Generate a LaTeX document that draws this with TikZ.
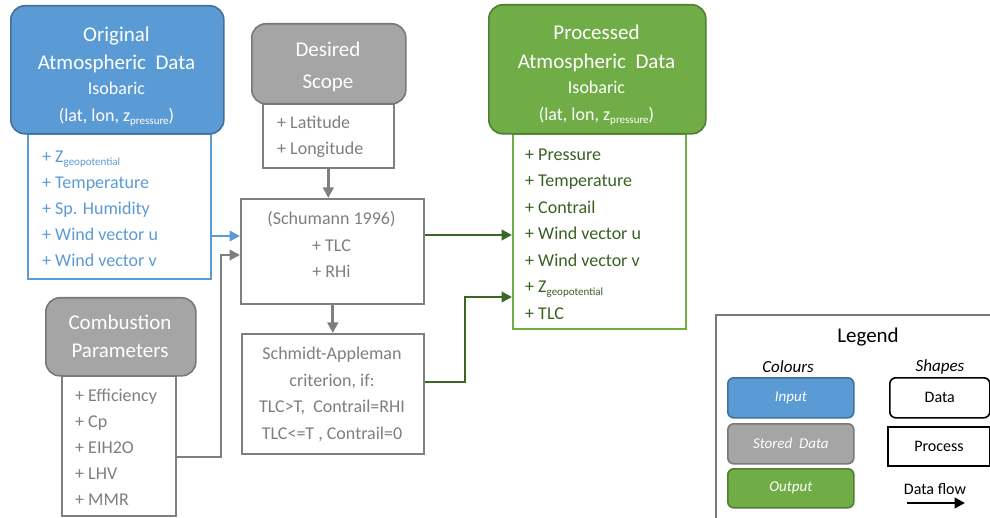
\documentclass[tikz,border=0pt]{standalone}
\usepackage{fontspec}
\setmainfont{Carlito}
\usetikzlibrary{arrows.meta}
\definecolor{inblue}{HTML}{5B9BD5}
\definecolor{inblueD}{HTML}{41719C}
\definecolor{stgray}{HTML}{A5A5A5}
\definecolor{stgrayD}{HTML}{787878}
\definecolor{outgreen}{HTML}{70AD47}
\definecolor{outgreenD}{HTML}{507E32}
\definecolor{arrgreen}{HTML}{3D6626}
\definecolor{txtgray}{HTML}{7F7F7F}
\definecolor{txtgreen}{HTML}{3A6024}
\begin{document}
\begin{tikzpicture}[x=1pt,y=-1pt,
  hdr/.style={draw, rounded corners=14pt, line width=1.6pt, anchor=north west, inner sep=0pt},
  bodybox/.style={draw, line width=1.6pt, anchor=north west, inner sep=0pt, fill=white},
  proc/.style={draw=txtgray, line width=1.6pt, anchor=north west, inner sep=0pt, fill=white},
  htitle/.style={anchor=base, inner sep=0pt, text=white, font=\fontsize{21}{26}\selectfont},
  hsub/.style={anchor=base, inner sep=0pt, text=white, font=\fontsize{18}{26}\selectfont},
  blist/.style={anchor=west, align=left, inner sep=0pt, font=\fontsize{18}{26}\selectfont},
  clist/.style={anchor=center, align=center, inner sep=0pt, font=\fontsize{18}{26.5}\selectfont, text=txtgray},
  flow/.style={line width=2.8pt, -{Triangle[length=10.5pt,width=10.5pt]}},
  legbox/.style={draw, rounded corners=6pt, line width=1.6pt, anchor=north west, inner sep=0pt},
  legtxt/.style={inner sep=0pt, font=\fontsize{15}{18}\selectfont\itshape, text=white}
]
\useasboundingbox (0,0) rectangle (990,518);
\newcommand{\mysub}[1]{\raisebox{-2.5pt}{\fontsize{11}{12}\selectfont #1}}

% ---------- Original atmospheric data (input) ----------
\node[bodybox, draw=inblue, minimum width=183pt, minimum height=145pt] (obody) at (27,133) {};
\node[hdr, fill=inblue, draw=inblueD, minimum width=213pt, minimum height=128pt] (ohead) at (10,5) {};
\node[htitle] (o1) at (116.5,42) {Original};
\node[htitle] (o2) at (116.5,70) {Atmospheric\ \ Data};
\node[hsub] (o3) at (116.5,95) {Isobaric};
\node[hsub] (o4) at (116.5,122) {(lat, lon, z\mysub{pressure})};
\node[blist, text=inblue] (otxt) at (42,209) {+ Z\mysub{geopotential}\\+ Temperature\\+ Sp. Humidity\\+ Wind vector u\\+ Wind vector v};

% ---------- Desired scope (stored) ----------
\node[bodybox, draw=txtgray, minimum width=131pt, minimum height=64pt] (dbody) at (262,103) {};
\node[hdr, fill=stgray, draw=stgrayD, minimum width=154pt, minimum height=80pt] (dhead) at (251,23) {};
\node[htitle] (d1) at (328,57) {Desired};
\node[htitle] (d2) at (328,89) {Scope};
\node[blist, text=txtgray] (dtxt) at (277,137) {+ Latitude\\+ Longitude};

% ---------- Combustion parameters (stored) ----------
\node[bodybox, draw=txtgray, minimum width=114pt, minimum height=140pt] (cbody) at (61,375) {};
\node[hdr, fill=stgray, draw=stgrayD, minimum width=150pt, minimum height=78pt] (chead) at (45,297) {};
\node[htitle] (c1) at (120,330) {Combustion};
\node[htitle] (c2) at (120,358) {Parameters};
\node[blist, text=txtgray] (ctxt) at (75,447.5) {+ Efficiency\\+ Cp\\+ EIH2O\\+ LHV\\+ MMR};

% ---------- Processes ----------
\node[proc, minimum width=183pt, minimum height=105pt] (sch) at (240,198) {};
\node[clist] (schtxt) at (331.5,244.5) {(Schumann 1996)\\+ TLC\\+ RHi};
\node[proc, minimum width=182pt, minimum height=120pt] (smd) at (241,333) {};
\node[clist] (smdtxt) at (332,394.5) {Schmidt-Appleman\\criterion, if:\\TLC>T,\ \ Contrail=RHI\\TLC<=T , Contrail=0};

% ---------- Processed atmospheric data (output) ----------
\node[bodybox, draw=outgreen, minimum width=173pt, minimum height=195pt] (gbody) at (512,133) {};
\node[hdr, fill=outgreen, draw=outgreenD, minimum width=217pt, minimum height=129pt] (ghead) at (488,4) {};
\node[htitle] (g1) at (596.5,40) {Processed};
\node[htitle] (g2) at (596.5,69) {Atmospheric\ \ Data};
\node[hsub] (g3) at (596.5,94) {Isobaric};
\node[hsub] (g4) at (596.5,121) {(lat, lon, z\mysub{pressure})};
\node[blist, text=txtgreen, font=\fontsize{18}{26.5}\selectfont] (gtxt) at (525,234) {+ Pressure\\+ Temperature\\+ Contrail\\+ Wind vector u\\+ Wind vector v\\+ Z\mysub{geopotential}\\+ TLC};

% ---------- connectors ----------
\coordinate (yb) at (0,236);
\coordinate (yg) at (0,255);
\coordinate (yc) at (0,457);
\coordinate (xc) at (221,0);
\coordinate (yg1) at (0,235);
\coordinate (yg2a) at (0,382);
\coordinate (xg2) at (465,0);
\coordinate (yg2b) at (0,297);

\draw[flow, draw=inblue] (obody.east |- yb) -- (sch.west |- yb);
\draw[flow, draw=txtgray] (cbody.east |- yc) -- (xc |- yc) -- (xc |- yg) -- (sch.west |- yg);
\draw[flow, draw=txtgray] (dbody.south) -- (dbody.south |- sch.north);
\draw[flow, draw=txtgray] (sch.south -| smd.north) -- (smd.north);
\draw[flow, draw=arrgreen] (sch.east |- yg1) -- (gbody.west |- yg1);
\draw[flow, draw=arrgreen] (smd.east |- yg2a) -- (xg2 |- yg2a) -- (xg2 |- yg2b) -- (gbody.west |- yg2b);

% ---------- Legend ----------
\draw[draw=stgrayD, line width=1.2pt] (996,315) -- (716,315) -- (716,524);
\node[inner sep=0pt, font=\fontsize{21}{24}\selectfont] (legt) at (868,337) {Legend};
\node[inner sep=0pt, font=\fontsize{17}{20}\selectfont\itshape] (legc) at (788,367) {Colours};
\node[inner sep=0pt, font=\fontsize{17}{20}\selectfont\itshape] (legs) at (940,367) {Shapes};
\node[legbox, fill=inblue, draw=inblueD, minimum width=126pt, minimum height=40pt] (lin) at (727,377) {};
\node[legtxt] at (lin.center) {Input};
\node[legbox, fill=stgray, draw=stgrayD, minimum width=126pt, minimum height=40pt] (lst) at (727,423) {};
\node[legtxt] at (lst.center) {Stored\ \ Data};
\node[legbox, fill=outgreen, draw=outgreenD, minimum width=126pt, minimum height=39pt] (lout) at (727,468) {};
\node[legtxt] at (lout.center) {Output};
\node[legbox, draw=black, minimum width=100pt, minimum height=40pt] (ldata) at (889,377) {};
\node[inner sep=0pt, font=\fontsize{16}{18}\selectfont] at (ldata.center) {Data};
\node[draw=black, line width=2pt, anchor=north west, inner sep=0pt, minimum width=102pt, minimum height=39pt] (lproc) at (887,426) {};
\node[inner sep=0pt, font=\fontsize{16}{18}\selectfont] at (lproc.center) {Process};
\node[inner sep=0pt, font=\fontsize{16}{18}\selectfont] (lflow) at (935,489) {Data flow};
\coordinate (la) at (907,503);
\coordinate (lb) at (965,503);
\draw[line width=2.8pt, -{Triangle[length=10.5pt,width=10.5pt]}] (la) -- (lb);
\end{tikzpicture}
\end{document}
